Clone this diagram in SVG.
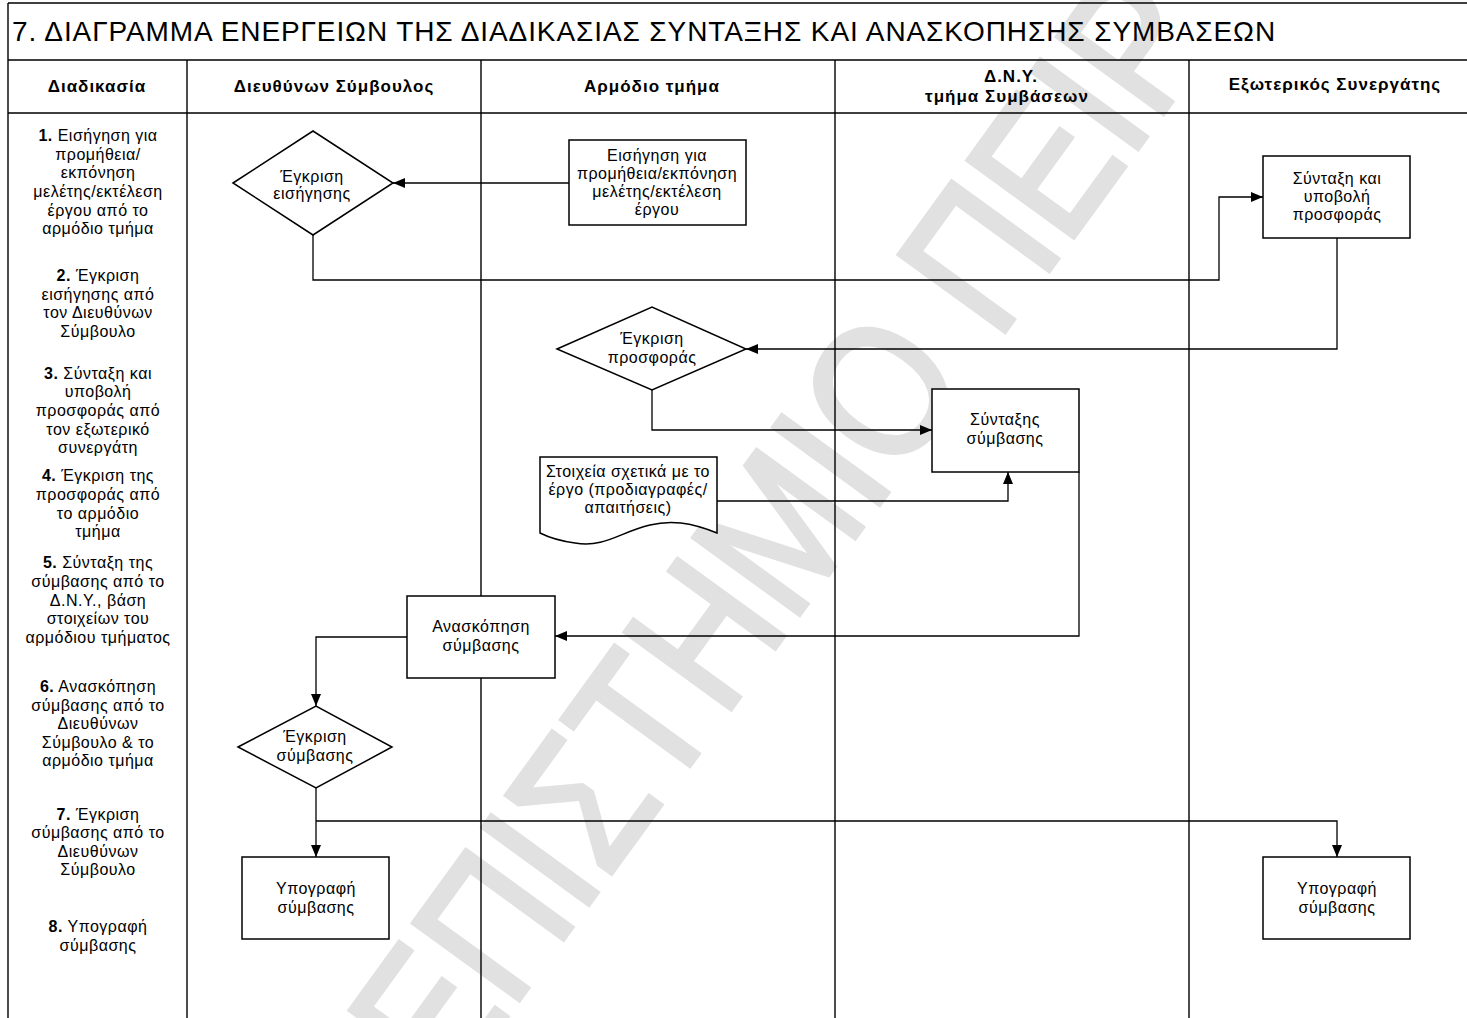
<svg xmlns="http://www.w3.org/2000/svg" width="1467" height="1018" viewBox="0 0 1467 1018">
  <style>
    text { font-family: "Liberation Sans", Arial, sans-serif; fill: #000; }
    .t { font-size: 16px; letter-spacing: 0.5px; text-anchor: middle; }
    .h { font-size: 17px; letter-spacing: 1px; font-weight: bold; text-anchor: middle; }
    .b { font-weight: bold; }
    .title { font-size: 28px; letter-spacing: 0.9px; }
    .wm { font-size: 190px; fill: #e1e1e1; stroke: #e1e1e1; stroke-width: 5; }
    .frame { stroke: #000; stroke-width: 1.4; fill: none; }
    .shape { fill: #fff; stroke: #000; stroke-width: 1.5; }
    .conn { fill: none; stroke: #000; stroke-width: 1.3; }
  </style>
  <defs>
    <marker id="arrow" markerWidth="13" markerHeight="11" refX="12" refY="5" orient="auto" markerUnits="userSpaceOnUse">
      <path d="M0,0 L12,5 L0,10 z" fill="#000"/>
    </marker>
  </defs>

  <rect width="1467" height="1018" fill="#fff"/>

  <!-- watermark, condensed along its baseline -->
  <text class="wm" transform="translate(448,1098) rotate(-54) scale(0.85,1)">ΕΠΙΣΤΗΜΙΟ ΠΕΙΡ</text>

  <!-- table frame and swimlanes -->
  <g id="frame">
    <path class="frame" d="M8,3 H1467 M8,60 H1467 M8,113 H1467 M8,3 V1018"/>
    <path class="frame" d="M187,60 V1018 M481,60 V1018 M835,60 V1018 M1189,60 V1018"/>
    <text class="title" x="12" y="41">7. ΔΙΑΓΡΑΜΜΑ ΕΝΕΡΓΕΙΩΝ ΤΗΣ ΔΙΑΔΙΚΑΣΙΑΣ ΣΥΝΤΑΞΗΣ ΚΑΙ ΑΝΑΣΚΟΠΗΣΗΣ ΣΥΜΒΑΣΕΩΝ</text>
    <text class="h" x="97" y="92">Διαδικασία</text>
    <text class="h" x="334" y="92">Διευθύνων Σύμβουλος</text>
    <text class="h" x="652" y="92">Αρμόδιο τμήμα</text>
    <text class="h" x="1011" y="82">Δ.Ν.Υ.</text>
    <text class="h" x="1007" y="102">τμήμα Συμβάσεων</text>
    <text class="h" x="1335" y="90">Εξωτερικός Συνεργάτης</text>
  </g>

  <!-- process steps column -->
  <g id="steps" class="t">
    <text x="98" y="141"><tspan class="b">1.</tspan> Εισήγηση για</text>
    <text x="98" y="160">προμήθεια/</text>
    <text x="98" y="178">εκπόνηση</text>
    <text x="98" y="197">μελέτης/εκτέλεση</text>
    <text x="98" y="216">έργου από το</text>
    <text x="98" y="234">αρμόδιο τμήμα</text>

    <text x="98" y="281"><tspan class="b">2.</tspan> Έγκριση</text>
    <text x="98" y="300">εισήγησης από</text>
    <text x="98" y="318">τον Διευθύνων</text>
    <text x="98" y="337">Σύμβουλο</text>

    <text x="98" y="379"><tspan class="b">3.</tspan> Σύνταξη και</text>
    <text x="98" y="397">υποβολή</text>
    <text x="98" y="416">προσφοράς από</text>
    <text x="98" y="435">τον εξωτερικό</text>
    <text x="98" y="453">συνεργάτη</text>

    <text x="98" y="481"><tspan class="b">4.</tspan> Έγκριση της</text>
    <text x="98" y="500">προσφοράς από</text>
    <text x="98" y="519">το αρμόδιο</text>
    <text x="98" y="537">τμήμα</text>

    <text x="98" y="568"><tspan class="b">5.</tspan> Σύνταξη της</text>
    <text x="98" y="587">σύμβασης από το</text>
    <text x="98" y="606">Δ.Ν.Υ., βάση</text>
    <text x="98" y="624">στοιχείων του</text>
    <text x="98" y="643">αρμόδιου τμήματος</text>

    <text x="98" y="692"><tspan class="b">6.</tspan> Ανασκόπηση</text>
    <text x="98" y="711">σύμβασης από το</text>
    <text x="98" y="729">Διευθύνων</text>
    <text x="98" y="748">Σύμβουλο &amp; το</text>
    <text x="98" y="766">αρμόδιο τμήμα</text>

    <text x="98" y="820"><tspan class="b">7.</tspan> Έγκριση</text>
    <text x="98" y="838">σύμβασης από το</text>
    <text x="98" y="857">Διευθύνων</text>
    <text x="98" y="875">Σύμβουλο</text>

    <text x="98" y="932"><tspan class="b">8.</tspan> Υπογραφή</text>
    <text x="98" y="951">σύμβασης</text>
  </g>

  <!-- connectors -->
  <g id="connectors" class="conn">
    <path d="M569,183 H393" marker-end="url(#arrow)"/>
    <path d="M313,235 V280 H1219 V197 H1263" marker-end="url(#arrow)"/>
    <path d="M1337,238 V349 H746" marker-end="url(#arrow)"/>
    <path d="M652,390 V430 H932" marker-end="url(#arrow)"/>
    <path d="M717,501 H1008 V472" marker-end="url(#arrow)"/>
    <path d="M1079,472 V636 H555" marker-end="url(#arrow)"/>
    <path d="M407,637 H316 V706" marker-end="url(#arrow)"/>
    <path d="M316,788 V857" marker-end="url(#arrow)"/>
    <path d="M316,821 H1337 V857" marker-end="url(#arrow)"/>
  </g>

  <!-- nodes -->
  <g id="approve-proposal">
    <path class="shape" d="M233,183 L313,131 L393,183 L313,235 Z"/>
    <text class="t" x="312" y="182">Έγκριση</text>
    <text class="t" x="312" y="199">εισήγησης</text>
  </g>

  <g id="proposal">
    <rect class="shape" x="569" y="140" width="177" height="85"/>
    <text class="t" x="657" y="161">Εισήγηση για</text>
    <text class="t" x="657" y="179">προμήθεια/εκπόνηση</text>
    <text class="t" x="657" y="197">μελέτης/εκτέλεση</text>
    <text class="t" x="657" y="215">έργου</text>
  </g>

  <g id="offer">
    <rect class="shape" x="1263" y="156" width="147" height="82"/>
    <text class="t" x="1337" y="184">Σύνταξη και</text>
    <text class="t" x="1337" y="202">υποβολή</text>
    <text class="t" x="1337" y="220">προσφοράς</text>
  </g>

  <g id="approve-offer">
    <path class="shape" d="M557,349 L652,307 L746,349 L652,390 Z"/>
    <text class="t" x="652" y="344">Έγκριση</text>
    <text class="t" x="652" y="363">προσφοράς</text>
  </g>

  <g id="draft-contract">
    <rect class="shape" x="932" y="389" width="147" height="83"/>
    <text class="t" x="1005" y="425">Σύνταξης</text>
    <text class="t" x="1005" y="444">σύμβασης</text>
  </g>

  <g id="project-data">
    <path class="shape" d="M540,457 H717 V533 C690,522 670,520 650,525 C620,532 605,548 575,543 C560,541 548,537 540,533 Z"/>
    <text class="t" x="628" y="477">Στοιχεία σχετικά με το</text>
    <text class="t" x="628" y="495">έργο (προδιαγραφές/</text>
    <text class="t" x="628" y="513">απαιτήσεις)</text>
  </g>

  <g id="review-contract">
    <rect class="shape" x="407" y="596" width="148" height="82"/>
    <text class="t" x="481" y="632">Ανασκόπηση</text>
    <text class="t" x="481" y="651">σύμβασης</text>
  </g>

  <g id="approve-contract">
    <path class="shape" d="M238,747 L316,706 L392,747 L316,788 Z"/>
    <text class="t" x="315" y="742">Έγκριση</text>
    <text class="t" x="315" y="761">σύμβασης</text>
  </g>

  <g id="sign-ceo">
    <rect class="shape" x="242" y="857" width="147" height="82"/>
    <text class="t" x="316" y="894">Υπογραφή</text>
    <text class="t" x="316" y="913">σύμβασης</text>
  </g>

  <g id="sign-partner">
    <rect class="shape" x="1263" y="857" width="147" height="82"/>
    <text class="t" x="1337" y="894">Υπογραφή</text>
    <text class="t" x="1337" y="913">σύμβασης</text>
  </g>
</svg>
